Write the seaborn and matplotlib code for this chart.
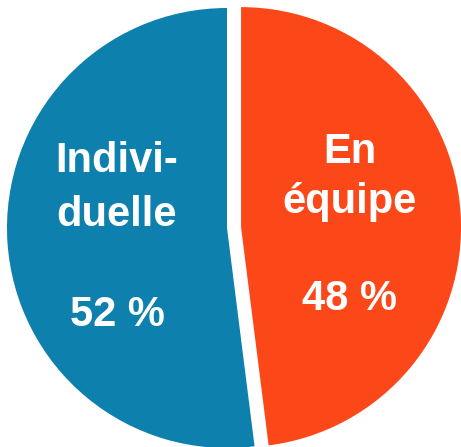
import matplotlib
matplotlib.use("Agg")
import matplotlib.pyplot as plt
import seaborn as sns

sns.set_theme(style="white")
plt.rcParams['font.family'] = ['Liberation Sans', 'DejaVu Sans']

categories = ["En\néquipe", "Indivi-\nduelle"]
values = [48, 52]
pct_labels = ["48 %", "52 %"]
colors = ["#FC4818", "#0D80AE"]

W, H = 461, 447
R = 220.0
CX, CY = 227.0, 228.0

fig = plt.figure(figsize=(W / 100, H / 100), dpi=100)
ax = fig.add_axes([0, 0, 1, 1])
ax.pie(values, colors=colors, startangle=90, counterclock=False,
       explode=[0.064, 0], radius=1.0, wedgeprops=dict(linewidth=0))
ax.set_xlim(-CX / R, (W - CX) / R)
ax.set_ylim(-(H - CY) / R, CY / R)
ax.set_aspect('equal')
ax.axis('off')

def px(x, y):
    return (x - CX) / R, (CY - y) / R

# label positions (pixel centers, baselines)
name_pos = [(350, [163, 213]), (117, [172, 226])]
pct_pos = [(350, 310), (117, 326)]

for i, cat in enumerate(categories):
    xc, bases = name_pos[i]
    for line, b in zip(cat.split("\n"), bases):
        x, y = px(xc, b)
        ax.text(x, y, line, ha='center', va='baseline', color='white',
                fontsize=30, fontweight='bold')
    x, y = px(pct_pos[i][0], pct_pos[i][1])
    ax.text(x, y, pct_labels[i], ha='center', va='baseline', color='white',
            fontsize=30, fontweight='bold')

fig.savefig("out.png", dpi=100)
